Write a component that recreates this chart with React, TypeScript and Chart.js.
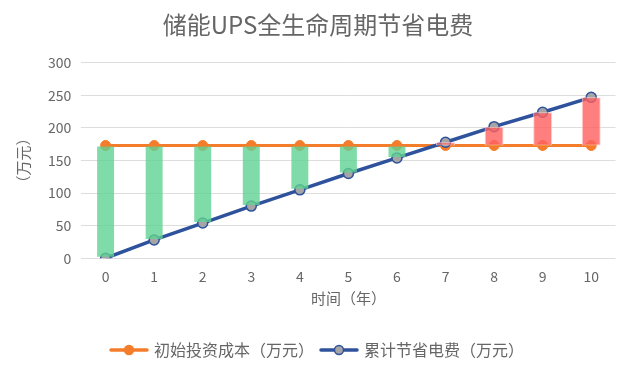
import React, { useEffect, useRef } from "react";
import { Chart, registerables } from "chart.js";

Chart.register(...registerables);

const titleText = "储能UPS全生命周期节省电费";
const years = ["0", "1", "2", "3", "4", "5", "6", "7", "8", "9", "10"];
const initialCost = [173, 173, 173, 173, 173, 173, 173, 173, 173, 173, 173];
const cumulativeSavings = [0, 28, 54, 80, 105, 130, 154, 178, 202, 224, 247];
const costLabel = "初始投资成本（万元）";
const savingsLabel = "累计节省电费（万元）";
const yTitle = "（万元）";
const xTitle = "时间（年）";

const FONT = "'Noto Sans CJK SC', 'Noto Sans', sans-serif";
const GRAY = "#666666";

function makeLegendIcon(lineColor: string, dotFill: string, dotBorder: string) {
  const c = document.createElement("canvas");
  c.width = 40;
  c.height = 12;
  const ctx = c.getContext("2d")!;
  ctx.strokeStyle = lineColor;
  ctx.lineWidth = 3.5;
  ctx.lineCap = "round";
  ctx.beginPath();
  ctx.moveTo(2, 6);
  ctx.lineTo(38, 6);
  ctx.stroke();
  ctx.beginPath();
  ctx.arc(20, 6, 4.5, 0, Math.PI * 2);
  ctx.fillStyle = dotFill;
  ctx.fill();
  ctx.lineWidth = 1.5;
  ctx.strokeStyle = dotBorder;
  ctx.stroke();
  return c;
}

export default function App() {
  const ref = useRef<HTMLCanvasElement>(null);
  useEffect(() => {
    if (!ref.current) return;
    const diffBars = years.map((_, i) => {
      const a = cumulativeSavings[i];
      const b = initialCost[i];
      return [Math.min(a, b), Math.max(a, b)];
    });
    const barColors = years.map((_, i) =>
      cumulativeSavings[i] < initialCost[i] ? "rgba(95, 210, 145, 0.8)" : "rgba(255, 95, 95, 0.8)"
    );
    const barBorders = years.map((_, i) =>
      cumulativeSavings[i] < initialCost[i] ? "rgba(95, 210, 145, 0)" : "rgba(255, 205, 205, 0.9)"
    );
    const orangeIcon = makeLegendIcon("#F47D2B", "#F47D2B", "#F47D2B");
    const blueIcon = makeLegendIcon("#2F529C", "#A5A5A5", "#2F529C");

    const chart = new Chart(ref.current, {
      type: "bar",
      data: {
        labels: years,
        datasets: [
          {
            type: "bar",
            label: "diff",
            data: diffBars as any,
            backgroundColor: barColors,
            borderColor: barBorders,
            borderWidth: 1,
            borderSkipped: false,
            barPercentage: 0.39,
            categoryPercentage: 1,
            order: 0,
          },
          {
            type: "line",
            label: costLabel,
            data: initialCost,
            borderColor: "#F47D2B",
            backgroundColor: "#F47D2B",
            borderWidth: 3,
            pointRadius: 5,
            pointBackgroundColor: "#F47D2B",
            pointBorderColor: "#F47D2B",
            pointBorderWidth: 1,
            order: 2,
          },
          {
            type: "line",
            label: savingsLabel,
            data: cumulativeSavings,
            borderColor: "#2F529C",
            backgroundColor: "#A5A5A5",
            borderWidth: 3.5,
            pointRadius: 5,
            pointBackgroundColor: "#A5A5A5",
            pointBorderColor: "#2F529C",
            pointBorderWidth: 1.5,
            order: 1,
          },
        ],
      },
      options: {
        animation: false,
        responsive: true,
        maintainAspectRatio: false,
        layout: { padding: { left: 6, right: 0, top: 0, bottom: 4 } },
        plugins: {
          title: {
            display: true,
            text: titleText,
            color: GRAY,
            font: { family: FONT, size: 24, weight: "normal" },
            padding: { top: 2, bottom: 24 },
          },
          tooltip: { enabled: false },
          legend: {
            display: true,
            position: "bottom",
            labels: {
              color: GRAY,
              font: { family: FONT, size: 16 },
              usePointStyle: true,
              pointStyleWidth: 34,
              boxHeight: 12,
              padding: 8,
              filter: (item) => item.text !== "diff",
              sort: (a, b) => a.datasetIndex - b.datasetIndex,
              generateLabels: (chart) => {
                const base = Chart.defaults.plugins.legend.labels.generateLabels(chart);
                return base.map((it) => {
                  if (it.text === costLabel) return { ...it, pointStyle: orangeIcon as any };
                  if (it.text === savingsLabel) return { ...it, pointStyle: blueIcon as any };
                  return it;
                });
              },
            },
          },
        },
        scales: {
          x: {
            offset: true,
            grid: { display: false },
            border: { display: false },
            ticks: { color: GRAY, font: { family: FONT, size: 14 }, padding: 2 },
            title: {
              display: true,
              text: xTitle,
              color: GRAY,
              font: { family: FONT, size: 15 },
              padding: { top: 2, bottom: 27 },
            },
          },
          y: {
            min: 0,
            max: 300,
            ticks: { stepSize: 50, color: GRAY, font: { family: FONT, size: 14 }, padding: 10 },
            grid: { color: "#DDDDDD", lineWidth: 1, drawTicks: false },
            border: { display: false },
            title: {
              display: true,
              text: yTitle,
              color: GRAY,
              font: { family: FONT, size: 15 },
              padding: { top: 0, bottom: 6 },
            },
          },
        },
      },
    });
    return () => chart.destroy();
  }, []);
  return (
    <div style={{ width: 614, height: 364 }}>
      <canvas ref={ref} />
    </div>
  );
}
